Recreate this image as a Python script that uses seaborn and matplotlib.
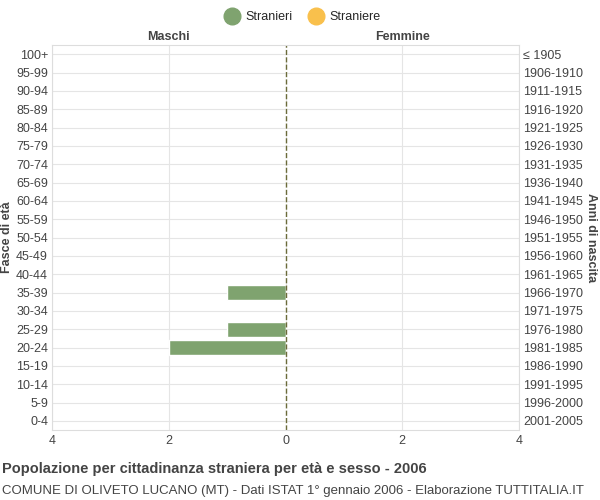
import matplotlib
matplotlib.use("Agg")
import matplotlib.pyplot as plt
import seaborn as sns
import pandas as pd
from matplotlib.lines import Line2D

# Dati (dall'alto verso il basso)
eta = ['100+', '95-99', '90-94', '85-89', '80-84', '75-79', '70-74', '65-69', '60-64',
       '55-59', '50-54', '45-49', '40-44', '35-39', '30-34', '25-29', '20-24', '15-19',
       '10-14', '5-9', '0-4']
anni = ['≤ 1905', '1906-1910', '1911-1915', '1916-1920', '1921-1925', '1926-1930',
        '1931-1935', '1936-1940', '1941-1945', '1946-1950', '1951-1955', '1956-1960',
        '1961-1965', '1966-1970', '1971-1975', '1976-1980', '1981-1985', '1986-1990',
        '1991-1995', '1996-2000', '2001-2005']
maschi = [0, 0, 0, 0, 0, 0, 0, 0, 0, 0, 0, 0, 0, 1, 0, 1, 2, 0, 0, 0, 0]
femmine = [0] * 21

col_m = '#7fa36f'
col_f = '#f9c04c'

df = pd.DataFrame({'eta': eta, 'maschi': [-v for v in maschi], 'femmine': femmine})

sns.set_style('white')
plt.rcParams['font.family'] = ['Liberation Sans', 'DejaVu Sans']
fig = plt.figure(figsize=(6, 5), dpi=100)
ax = fig.add_axes([0.087, 0.14, 0.778, 0.77])

sns.barplot(data=df, x='maschi', y='eta', orient='h', color=col_m, width=0.8, ax=ax, saturation=1)
sns.barplot(data=df, x='femmine', y='eta', orient='h', color=col_f, width=0.8, ax=ax, saturation=1)

ax.set_xlim(-4, 4)
ax.set_xticks([-4, -2, 0, 2, 4])
ax.set_xticklabels(['4', '2', '0', '2', '4'], fontsize=9, color='#444')
ax.set_ylim(len(eta) - 0.5, -0.5)
ax.tick_params(axis='y', labelsize=9, colors='#444', length=0, pad=3)
ax.tick_params(axis='x', length=0)
ax.grid(True, color='#e5e5e5', linewidth=0.8)
ax.set_axisbelow(True)
for s in ax.spines.values():
    s.set_color('#dddddd')
ax.axvline(0, color='#6b6b3a', linestyle='--', linewidth=1)
ax.set_xlabel('')
ax.set_ylabel('Fasce di età', fontsize=9, fontweight='bold', color='#444', labelpad=2)

ax2 = ax.twinx()
ax2.set_ylim(ax.get_ylim())
ax2.set_yticks(range(len(anni)))
ax2.set_yticklabels(anni, fontsize=9, color='#444')
ax2.tick_params(length=0, pad=3)
for s in ax2.spines.values():
    s.set_visible(False)
ax2.set_ylabel('Anni di nascita', fontsize=9, fontweight='bold', color='#444', rotation=270, labelpad=10)

ax.text(0.25, 1.005, 'Maschi', transform=ax.transAxes, ha='center', va='bottom', fontsize=9, fontweight='bold', color='#444')
ax.text(0.75, 1.005, 'Femmine', transform=ax.transAxes, ha='center', va='bottom', fontsize=9, fontweight='bold', color='#444')

handles = [Line2D([], [], marker='o', linestyle='', markersize=12, color=col_m),
           Line2D([], [], marker='o', linestyle='', markersize=12, color=col_f)]
fig.legend(handles, ['Stranieri', 'Straniere'], loc='upper center', bbox_to_anchor=(0.5, 1.0),
           ncol=2, frameon=False, fontsize=9, handletextpad=0.1, columnspacing=0.8)

fig.text(0.003, 0.055, 'Popolazione per cittadinanza straniera per età e sesso - 2006', fontsize=10.5, fontweight='bold', color='#444')
fig.text(0.003, 0.012, 'COMUNE DI OLIVETO LUCANO (MT) - Dati ISTAT 1° gennaio 2006 - Elaborazione TUTTITALIA.IT', fontsize=9.5, color='#444')

fig.savefig('out.png', dpi=100)
